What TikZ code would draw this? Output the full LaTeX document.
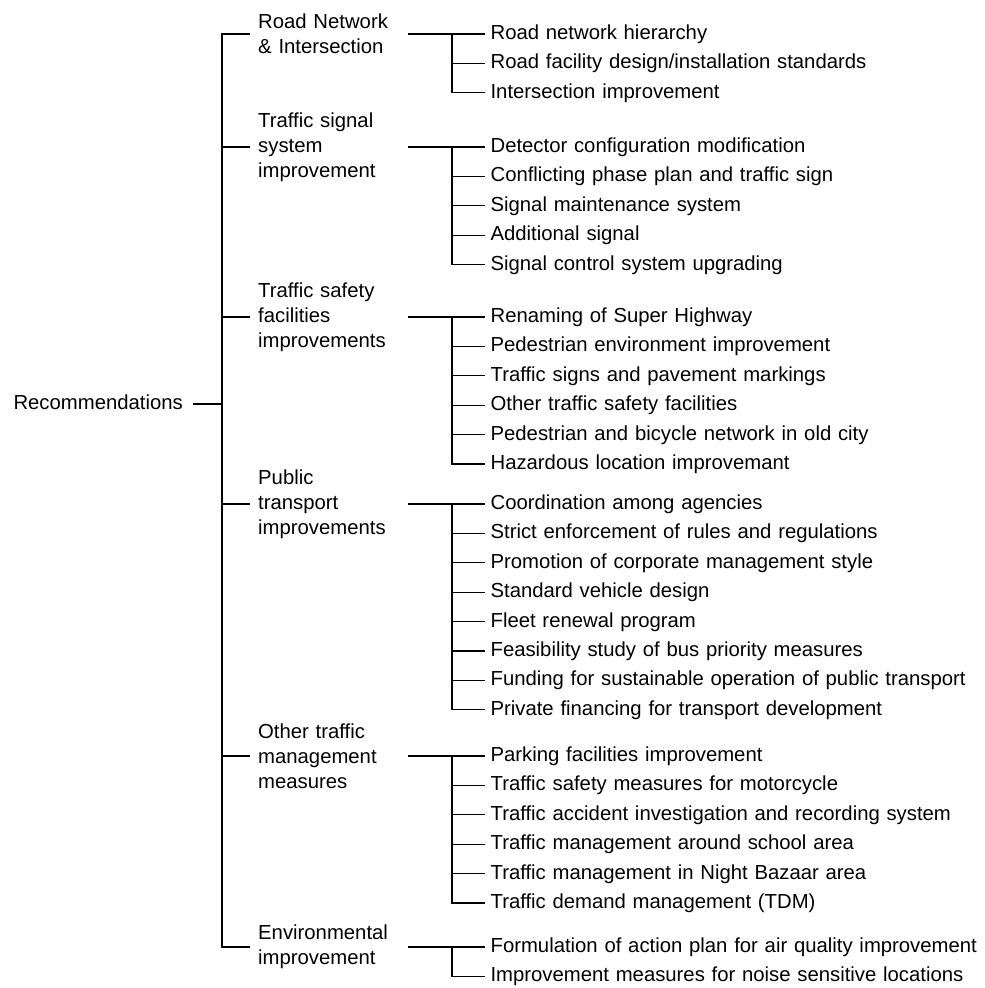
\documentclass[tikz,border=0pt]{standalone}
\usepackage{fontspec}
\setmainfont{Liberation Sans}
\usepackage{tikz}
\usetikzlibrary{positioning}

\begin{document}
\begin{tikzpicture}[
    x=1pt, y=-1pt,
    node distance=0pt,
    every node/.style={font=\fontsize{20.3}{25}\selectfont},
    root/.style={anchor=east, inner xsep=10pt, text height=15pt, text depth=4pt},
    category/.style={anchor=west, text width=142pt, align=left, inner xsep=8pt, inner ysep=0pt},
    item/.style={text width=490pt, align=left, inner xsep=5pt, inner ysep=0pt, minimum height=29pt, text height=15pt, text depth=4pt},
    link/.style={line width=1.1pt}
]
\useasboundingbox (0,0) rectangle (985,988);

% Root and main groups
\node[root] (rec) at (193,404) {Recommendations};
\node[category] (road) at (250,34) {Road Network\\\& Intersection};
\node[category] (signal) at (250,147) {Traffic signal\\system\\improvement};
\node[category] (safety) at (250,317) {Traffic safety\\facilities\\improvements};
\node[category] (public) at (250,504) {Public\\transport\\improvements};
\node[category] (other) at (250,756) {Other traffic\\management\\measures};
\node[category] (env) at (250,947) {Environmental\\improvement};

% Road network items
\node[item, right=77pt of road] (road1) {Road network hierarchy};
\node[item, below=of road1] (road2) {Road facility design/installation standards};
\node[item, below=of road2] (road3) {Intersection improvement};

% Signal items
\node[item, right=77pt of signal] (signal1) {Detector configuration modification};
\node[item, below=of signal1] (signal2) {Conflicting phase plan and traffic sign};
\node[item, below=of signal2] (signal3) {Signal maintenance system};
\node[item, below=of signal3] (signal4) {Additional signal};
\node[item, below=of signal4] (signal5) {Signal control system upgrading};

% Safety items
\node[item, right=77pt of safety] (safety1) {Renaming of Super Highway};
\node[item, below=of safety1] (safety2) {Pedestrian environment improvement};
\node[item, below=of safety2] (safety3) {Traffic signs and pavement markings};
\node[item, below=of safety3] (safety4) {Other traffic safety facilities};
\node[item, below=of safety4] (safety5) {Pedestrian and bicycle network in old city};
\node[item, below=of safety5] (safety6) {Hazardous location improvemant};

% Public transport items
\node[item, right=77pt of public] (public1) {Coordination among agencies};
\node[item, below=of public1] (public2) {Strict enforcement of rules and regulations};
\node[item, below=of public2] (public3) {Promotion of corporate management style};
\node[item, below=of public3] (public4) {Standard vehicle design};
\node[item, below=of public4] (public5) {Fleet renewal program};
\node[item, below=of public5] (public6) {Feasibility study of bus priority measures};
\node[item, below=of public6] (public7) {Funding for sustainable operation of public transport};
\node[item, below=of public7] (public8) {Private financing for transport development};

% Other measures items
\node[item, right=77pt of other] (other1) {Parking facilities improvement};
\node[item, below=of other1] (other2) {Traffic safety measures for motorcycle};
\node[item, below=of other2] (other3) {Traffic accident investigation and recording system};
\node[item, below=of other3] (other4) {Traffic management around school area};
\node[item, below=of other4] (other5) {Traffic management in Night Bazaar area};
\node[item, below=of other5] (other6) {Traffic demand management (TDM)};

% Environment items
\node[item, right=77pt of env] (env1) {Formulation of action plan for air quality improvement};
\node[item, below=of env1] (env2) {Improvement measures for noise sensitive locations};

% Tree lines
\coordinate (bus) at (222,404);
\coordinate (sub) at (452,0);
\draw[link] (rec.east) -- (bus);
\draw[link] (road.west) -- (bus |- road.west) -- (bus |- env.west) -- (env.west);
\foreach \c in {signal,safety,public,other}
  \draw[link] (bus |- \c.west) -- (\c.west);

\foreach \c/\n in {road/3,signal/5,safety/6,public/8,other/6,env/2} {
  \draw[link] (\c.east) -- (\c1.west);
  \draw[link] (sub |- \c1.west) -- (sub |- \c\n.west) -- (\c\n.west);
  \foreach \i in {2,...,\n}
    \draw[link] (sub |- \c\i.west) -- (\c\i.west);
}

\end{tikzpicture}
\end{document}
